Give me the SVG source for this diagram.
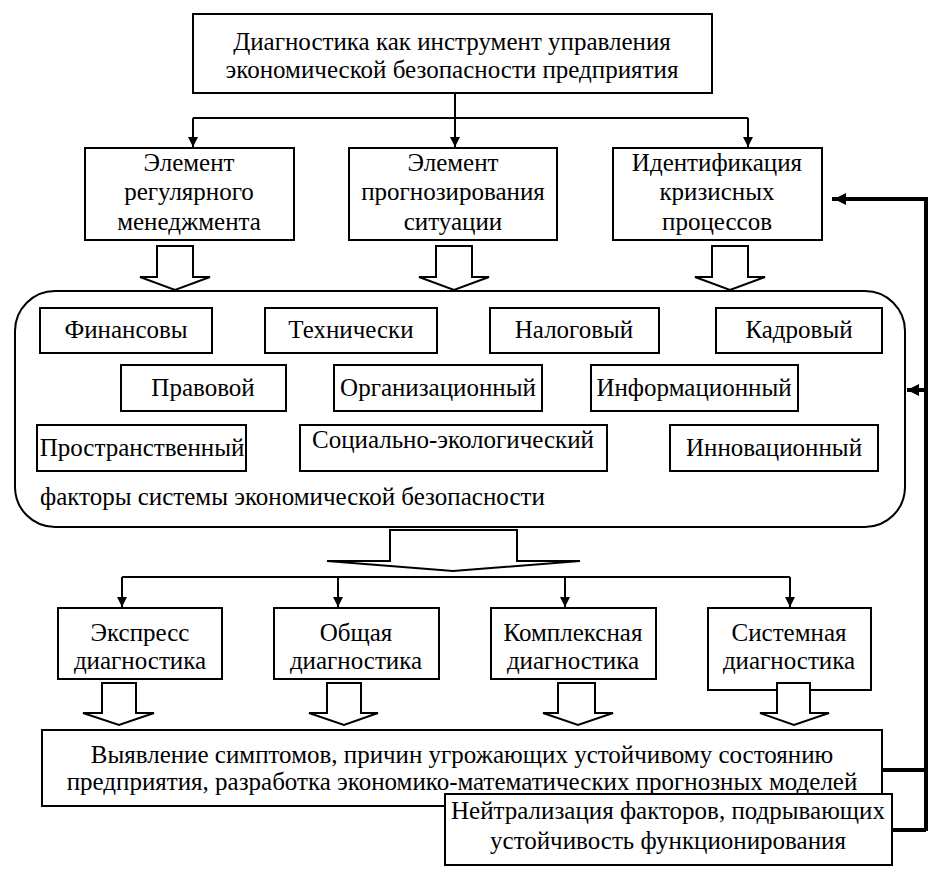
<svg xmlns="http://www.w3.org/2000/svg" width="948" height="884" viewBox="0 0 948 884">
<style>
.box{fill:#fff;stroke:#000;stroke-width:2}
.t{font-family:'Liberation Serif','DejaVu Serif',serif;font-size:25px;fill:#000;text-anchor:middle}
.tl{font-family:'Liberation Serif','DejaVu Serif',serif;font-size:25px;fill:#000}
.ln{fill:none;stroke:#000;stroke-width:2}
.thick{fill:none;stroke:#000;stroke-width:4}
.hollow{fill:#fff;stroke:#000;stroke-width:2;stroke-linejoin:miter}
</style>
<defs>
<marker id="ah" viewBox="0 0 10 10" refX="10" refY="5" markerWidth="10" markerHeight="10" markerUnits="userSpaceOnUse" orient="auto">
<path d="M0,0 L10,5 L0,10 z" fill="#000"/>
</marker>
<marker id="ahb" viewBox="0 0 10 10" refX="10" refY="5" markerWidth="14" markerHeight="12" markerUnits="userSpaceOnUse" orient="auto">
<path d="M0,0 L10,5 L0,10 z" fill="#000"/>
</marker>
</defs>
<rect width="948" height="884" fill="#fff"/>

<g id="connectors">
<path class="ln" d="M455,93 V147" marker-end="url(#ah)"/>
<path class="ln" d="M193,118 H748"/>
<path class="ln" d="M193,118 V147" marker-end="url(#ah)"/>
<path class="ln" d="M748,118 V147" marker-end="url(#ah)"/>
<path class="hollow" d="M157,246 H193 V277 H210 L175,290 L140,277 H157 Z"/>
<path class="hollow" d="M436,246 H472 V277 H489 L454,290 L419,277 H436 Z"/>
<path class="hollow" d="M712,246 H748 V277 H765 L730,290 L695,277 H712 Z"/>
<path class="hollow" d="M390,530 H517 V561 H580 L453,571 L327,561 H390 Z"/>
<path class="ln" d="M122,577 H790"/>
<path class="ln" d="M122,577 V607" marker-end="url(#ah)"/>
<path class="ln" d="M338,577 V607" marker-end="url(#ah)"/>
<path class="ln" d="M565,577 V607" marker-end="url(#ah)"/>
<path class="ln" d="M790,577 V607" marker-end="url(#ah)"/>
<path class="thick" d="M882,770 H926 M892,830 H926 M926,831 V199 H832" />
<path class="thick" d="M926,199 H834" marker-end="url(#ahb)"/>
<path class="thick" d="M926,390 H907" marker-end="url(#ahb)"/>
</g>

<g id="top">
<rect class="box" x="193" y="14" width="519" height="79"/>
<text class="t" x="452" y="50">Диагностика как инструмент управления</text>
<text class="t" x="452" y="78">экономической безопасности предприятия</text>
</g>

<g id="el-reg">
<rect class="box" x="85" y="148" width="209" height="92"/>
<text class="t" x="189" y="171">Элемент</text>
<text class="t" x="189" y="200">регулярного</text>
<text class="t" x="189" y="230">менеджмента</text>
</g>
<g id="el-prog">
<rect class="box" x="349" y="148" width="208" height="92"/>
<text class="t" x="453" y="171">Элемент</text>
<text class="t" x="453" y="200">прогнозирования</text>
<text class="t" x="453" y="230">ситуации</text>
</g>
<g id="ident">
<rect class="box" x="613" y="148" width="209" height="92"/>
<text class="t" x="717" y="171">Идентификация</text>
<text class="t" x="717" y="200">кризисных</text>
<text class="t" x="717" y="230">процессов</text>
</g>

<g id="factors">
<rect class="box" x="15" y="291" width="890" height="236" rx="40" ry="40"/>
<text class="tl" x="40" y="505">факторы системы экономической безопасности</text>
</g>
<g id="f-fin"><rect class="box" x="40" y="308" width="172" height="45"/><text class="t" x="126" y="338">Финансовы</text></g>
<g id="f-tech"><rect class="box" x="265" y="308" width="172" height="45"/><text class="t" x="351" y="338">Технически</text></g>
<g id="f-nal"><rect class="box" x="490" y="308" width="169" height="45"/><text class="t" x="574" y="338">Налоговый</text></g>
<g id="f-kadr"><rect class="box" x="716" y="308" width="166" height="45"/><text class="t" x="799" y="338">Кадровый</text></g>
<g id="f-prav"><rect class="box" x="121" y="365" width="165" height="46"/><text class="t" x="203" y="396">Правовой</text></g>
<g id="f-org"><rect class="box" x="334" y="365" width="208" height="46"/><text class="t" x="438" y="396">Организационный</text></g>
<g id="f-inf"><rect class="box" x="591" y="365" width="207" height="46"/><text class="t" x="694" y="396">Информационный</text></g>
<g id="f-prost"><rect class="box" x="37" y="425" width="209" height="46"/><text class="t" x="142" y="456">Пространственный</text></g>
<g id="f-soc"><rect class="box" x="300" y="425" width="307" height="46"/><text class="t" x="453" y="448">Социально-экологический</text></g>
<g id="f-inn"><rect class="box" x="670" y="425" width="208" height="46"/><text class="t" x="774" y="456">Инновационный</text></g>

<g id="d-exp"><rect class="box" x="58" y="608" width="164" height="71"/><text class="t" x="140" y="641">Экспресс</text><text class="t" x="140" y="669">диагностика</text></g>
<g id="d-obsh"><rect class="box" x="274" y="608" width="165" height="71"/><text class="t" x="356" y="641">Общая</text><text class="t" x="356" y="669">диагностика</text></g>
<g id="d-kompl"><rect class="box" x="491" y="608" width="165" height="71"/><text class="t" x="573" y="641">Комплексная</text><text class="t" x="573" y="669">диагностика</text></g>
<g id="d-sist"><rect class="box" x="708" y="608" width="163" height="82"/><text class="t" x="789" y="641">Системная</text><text class="t" x="789" y="669">диагностика</text></g>

<g id="arrows-lower">
<path class="hollow" d="M102,683 H136 V713 H154 L119,725 L83,713 H102 Z"/>
<path class="hollow" d="M327,683 H361 V713 H378 L344,725 L309,713 H327 Z"/>
<path class="hollow" d="M558,683 H595 V713 H613 L578,725 L543,713 H558 Z"/>
<path class="hollow" d="M777,683 H810 V713 H829 L794,725 L760,713 H777 Z"/>
</g>

<g id="vyyav">
<rect class="box" x="42" y="730" width="840" height="76"/>
<text class="t" x="462" y="763">Выявление симптомов, причин угрожающих устойчивому состоянию</text>
<text class="t" x="462" y="790">предприятия, разработка экономико-математических прогнозных моделей</text>
</g>
<g id="neutr">
<rect class="box" x="445" y="794" width="447" height="71"/>
<text class="t" x="668" y="819">Нейтрализация факторов, подрывающих</text>
<text class="t" x="668" y="849">устойчивость функционирования</text>
</g>
</svg>
